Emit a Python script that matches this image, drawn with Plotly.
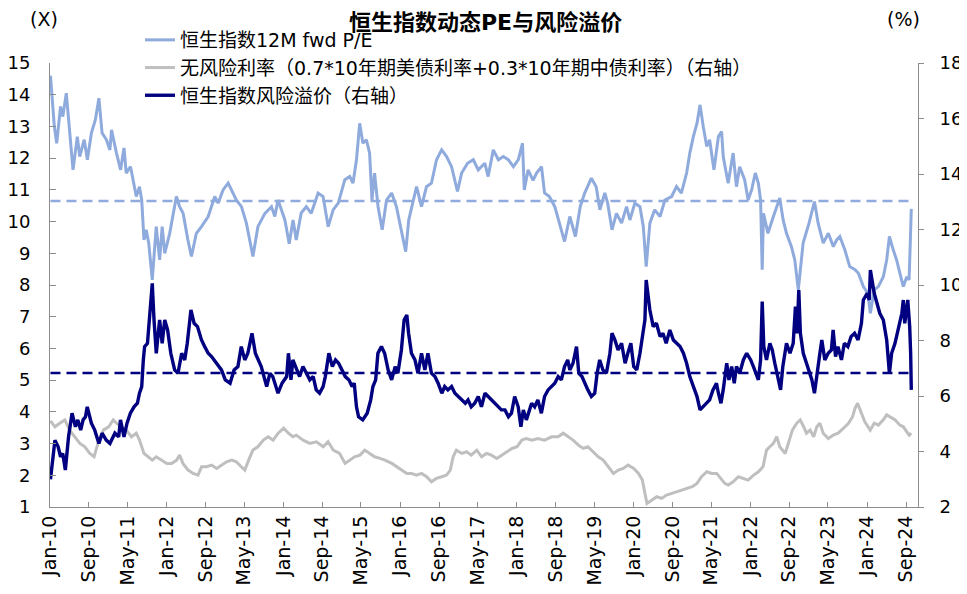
import plotly.graph_objects as go

# ---------------- data ----------------
pe_dates = [
    "2010-01-04","2010-01-28","2010-02-12","2010-03-08","2010-03-22","2010-04-13","2010-05-25","2010-06-21","2010-07-06","2010-08-03","2010-08-23","2010-09-17","2010-10-12","2010-11-03","2010-11-23","2010-12-20",
    "2011-01-11","2011-01-21","2011-02-21","2011-03-19","2011-04-09","2011-04-23","2011-05-20","2011-06-11","2011-06-25","2011-07-15","2011-07-29","2011-08-12","2011-08-26","2011-09-11","2011-10-03","2011-10-28","2011-11-18","2011-12-04","2011-12-20",
    "2012-01-20","2012-02-07","2012-03-02","2012-03-22","2012-04-13","2012-05-13","2012-06-04","2012-07-05","2012-08-06","2012-09-17","2012-10-28","2012-11-18","2012-12-19",
    "2013-01-20","2013-03-12","2013-04-13","2013-05-14","2013-06-24","2013-07-25","2013-09-07","2013-10-18","2013-11-08","2013-11-28",
    "2014-01-10","2014-02-06","2014-03-02","2014-03-22","2014-04-22","2014-05-24","2014-06-24","2014-08-06","2014-09-06","2014-10-08","2014-11-08","2014-12-10",
    "2015-01-20","2015-02-20","2015-03-12","2015-04-03","2015-04-23","2015-05-13","2015-06-04","2015-06-24","2015-07-09","2015-07-25","2015-08-16","2015-09-11","2015-10-08","2015-11-09","2015-12-09",
    "2016-01-11","2016-02-05","2016-02-24","2016-03-21","2016-04-13","2016-05-14","2016-06-14","2016-07-15","2016-08-16","2016-09-17","2016-10-18","2016-11-18","2016-12-25",
    "2017-01-20","2017-02-26","2017-04-03","2017-05-04","2017-06-14","2017-07-05","2017-08-06","2017-09-07","2017-10-08","2017-11-08","2017-12-10",
    "2018-01-10","2018-02-05","2018-02-16","2018-03-12","2018-04-12","2018-05-04","2018-06-04","2018-06-23","2018-07-23","2018-08-26","2018-09-26","2018-10-26","2018-11-28",
    "2019-01-02","2019-02-01","2019-03-01","2019-04-12","2019-05-12","2019-06-04","2019-07-05","2019-07-23","2019-08-19","2019-09-16","2019-10-18","2019-11-18","2019-12-09",
    "2020-01-09","2020-02-10","2020-03-02","2020-03-20","2020-04-12","2020-05-12","2020-06-15","2020-07-15","2020-08-26","2020-09-26","2020-10-26","2020-11-28","2020-12-18",
    "2021-01-09","2021-02-01","2021-02-20","2021-03-12","2021-04-03","2021-04-21","2021-05-18","2021-06-15","2021-07-05","2021-07-15","2021-08-15","2021-09-15","2021-10-06","2021-10-26","2021-11-26","2021-12-18",
    "2022-01-09","2022-02-01","2022-02-20","2022-03-06","2022-03-11","2022-03-16","2022-03-24","2022-04-21","2022-05-25","2022-06-15","2022-07-04","2022-07-25","2022-08-15","2022-09-15","2022-10-06","2022-10-28","2022-11-09","2022-11-27",
    "2023-01-03","2023-01-21","2023-02-06","2023-03-01","2023-04-02","2023-05-04","2023-06-04","2023-06-25","2023-07-15","2023-08-15","2023-09-15","2023-10-18","2023-11-08","2023-12-09",
    "2024-01-06","2024-01-22","2024-02-15","2024-03-12","2024-04-12","2024-05-03","2024-05-20","2024-06-13","2024-07-04","2024-07-25","2024-08-15","2024-09-06","2024-09-20","2024-09-27","2024-10-04",
]
pe_values = [
    14.6,13.0,12.47,13.63,13.31,14.05,11.63,12.68,12.05,12.58,11.95,12.79,13.21,13.89,12.79,12.58,
    12.26,12.89,12.16,11.63,12.32,11.53,11.73,11.21,10.79,11.1,10.68,9.42,9.74,9.32,8.16,9.84,8.79,9.84,9.0,
    9.63,10.16,10.79,10.47,10.26,9.42,8.9,9.63,9.84,10.16,10.79,10.58,11.0,
    11.21,10.68,10.47,9.95,8.9,9.84,10.26,10.47,10.16,10.68,
    10.05,9.3,10.05,9.42,10.27,10.47,10.26,10.9,10.79,9.84,10.37,10.58,
    11.32,11.42,11.21,11.95,13.1,12.47,12.58,12.16,10.68,11.53,10.47,9.74,10.68,10.9,10.47,
    9.63,9.05,10.05,10.58,11.1,10.47,11.1,11.21,11.95,12.26,12.05,11.73,10.95,
    11.53,11.84,11.95,11.63,11.84,11.42,12.26,11.95,12.05,11.95,11.73,
    11.95,12.47,11.0,11.63,11.3,11.53,11.73,10.9,10.79,10.47,9.95,9.37,10.16,
    9.53,10.47,10.9,11.37,11.1,10.37,10.9,10.58,9.74,10.26,9.95,10.47,10.05,
    10.58,10.47,9.84,8.58,9.95,10.37,10.16,10.68,10.79,11.1,10.9,11.53,12.16,
    12.68,13.1,13.68,13.0,12.37,12.58,11.63,12.68,12.84,12.05,11.21,12.16,11.1,11.73,11.32,10.68,
    11.0,11.53,11.21,10.68,9.84,8.48,10.26,9.63,10.16,10.47,10.74,10.05,9.63,9.21,8.79,7.85,8.48,9.32,
    9.95,10.37,10.63,9.95,9.32,9.63,9.21,9.42,9.53,9.11,8.58,8.48,8.37,7.95,
    7.74,7.11,7.85,7.95,8.26,8.79,9.53,9.11,8.79,8.37,7.95,8.26,8.16,9.21,10.4,
]

rf_dates = [
    "2010-01-04","2010-02-01","2010-03-03","2010-04-04","2010-05-04","2010-06-04","2010-07-07","2010-08-07","2010-09-07","2010-10-04","2010-10-28","2010-12-01",
    "2011-01-03","2011-02-01","2011-02-21","2011-03-22","2011-04-25","2011-05-25","2011-06-25","2011-07-15","2011-08-12","2011-09-07","2011-10-03","2011-10-28","2011-12-01",
    "2012-01-02","2012-02-01","2012-03-04","2012-03-22","2012-04-12","2012-05-14","2012-06-15","2012-07-15","2012-08-07","2012-09-07","2012-10-08","2012-11-09","2012-12-09",
    "2013-01-10","2013-02-12","2013-03-12","2013-04-12","2013-05-04","2013-05-28","2013-06-24","2013-07-25","2013-08-28","2013-09-28","2013-10-28","2013-11-29",
    "2014-01-02","2014-02-01","2014-03-01","2014-03-22","2014-05-04","2014-06-15","2014-07-26","2014-09-07","2014-10-07","2014-11-09","2014-12-18",
    "2015-01-22","2015-02-20","2015-03-22","2015-04-25","2015-05-25","2015-06-25","2015-07-25","2015-08-28","2015-09-28","2015-11-10","2015-12-10",
    "2016-01-10","2016-02-12","2016-03-12","2016-04-12","2016-05-14","2016-06-15","2016-07-15","2016-08-15","2016-09-18","2016-10-18","2016-11-10","2016-11-28","2016-12-18",
    "2017-01-21","2017-02-20","2017-03-21","2017-04-25","2017-05-25","2017-06-25","2017-07-25","2017-08-28","2017-09-28","2017-10-28","2017-12-01",
    "2018-01-02","2018-02-01","2018-03-01","2018-04-04","2018-05-12","2018-06-23","2018-08-06","2018-09-16","2018-10-18","2018-11-18","2018-12-18",
    "2019-01-21","2019-02-20","2019-03-21","2019-04-21","2019-05-25","2019-06-25","2019-07-25","2019-08-28","2019-09-28","2019-10-28","2019-11-28",
    "2020-01-02","2020-02-01","2020-02-25","2020-03-12","2020-03-25","2020-04-25","2020-05-25","2020-06-25","2020-07-25","2020-08-28","2020-09-28","2020-10-28","2020-11-28",
    "2021-01-02","2021-02-01","2021-03-01","2021-04-04","2021-05-04","2021-06-04","2021-07-07","2021-07-25","2021-08-15","2021-09-15","2021-10-18","2021-11-18","2021-12-18",
    "2022-01-21","2022-02-20","2022-03-21","2022-04-12","2022-05-03","2022-05-25","2022-06-15","2022-07-04","2022-08-07","2022-08-28","2022-09-21","2022-10-18","2022-11-09","2022-12-01","2022-12-18",
    "2023-01-10","2023-02-01","2023-02-21","2023-03-12","2023-04-02","2023-05-04","2023-06-04","2023-07-04","2023-08-07","2023-09-07","2023-10-02","2023-10-18","2023-11-03","2023-11-25","2023-12-18",
    "2024-01-21","2024-02-15","2024-03-12","2024-04-12","2024-05-03","2024-05-25","2024-06-25","2024-07-25","2024-08-15","2024-09-06","2024-09-21","2024-10-04",
]
rf_values = [
    5.1,4.89,5.02,5.14,4.77,4.53,4.29,4.17,3.93,3.81,4.29,4.77,
    4.89,5.14,5.02,4.89,4.77,4.53,4.66,4.41,3.93,3.81,3.69,3.81,3.69,
    3.57,3.57,3.69,3.87,3.57,3.33,3.21,3.15,3.45,3.45,3.51,3.39,3.51,
    3.63,3.69,3.63,3.45,3.33,3.69,4.05,4.17,4.41,4.53,4.41,4.66,
    4.84,4.66,4.53,4.59,4.41,4.29,4.35,4.17,4.35,4.05,3.93,
    3.57,3.69,3.81,3.87,4.05,3.93,3.81,3.75,3.69,3.57,3.45,
    3.33,3.21,3.21,3.15,3.21,3.09,2.91,3.03,3.09,3.15,3.33,3.81,4.05,
    3.93,3.99,3.87,4.05,3.81,3.93,3.87,3.75,3.87,3.99,4.11,
    4.17,4.41,4.47,4.41,4.47,4.41,4.53,4.53,4.66,4.53,4.41,
    4.23,4.11,4.17,3.99,3.81,3.69,3.45,3.21,3.33,3.39,3.51,
    3.39,3.21,2.97,2.49,2.13,2.25,2.37,2.31,2.43,2.49,2.55,2.61,2.67,
    2.73,2.85,3.09,3.27,3.21,3.21,2.97,2.85,2.79,2.91,3.09,3.03,2.97,
    3.15,3.27,3.45,4.05,4.17,4.29,4.53,4.17,3.93,4.29,4.77,5.02,5.14,4.89,4.66,
    4.77,4.53,4.89,5.02,4.66,4.47,4.59,4.66,4.84,5.02,5.25,5.56,5.74,5.38,5.07,
    4.77,5.02,4.95,5.14,5.32,5.25,5.14,4.95,4.89,4.71,4.59,4.66,
]

rp_dates = [
    "2010-01-04","2010-02-01","2010-02-21","2010-03-08","2010-03-22","2010-04-07","2010-04-27","2010-05-19","2010-06-09","2010-06-24","2010-07-12","2010-07-27","2010-08-11","2010-08-22","2010-09-17","2010-10-08","2010-11-03","2010-11-23","2010-12-19",
    "2011-01-11","2011-02-11","2011-03-07","2011-03-18","2011-04-09","2011-04-28","2011-05-19","2011-06-11","2011-07-02","2011-07-15","2011-07-29","2011-08-08","2011-08-16","2011-09-03","2011-09-17","2011-10-03","2011-10-14","2011-10-28","2011-11-18","2011-12-04","2011-12-20",
    "2012-01-07","2012-01-27","2012-02-20","2012-03-12","2012-04-04","2012-04-23","2012-05-09","2012-06-01","2012-06-21","2012-07-12","2012-08-06","2012-08-26","2012-09-17","2012-10-08","2012-11-09","2012-12-09",
    "2013-01-02","2013-02-01","2013-02-26","2013-03-22","2013-04-12","2013-05-04","2013-05-23","2013-06-18","2013-07-09","2013-07-25","2013-08-15","2013-09-18","2013-10-08","2013-10-26","2013-11-28","2013-12-23",
    "2014-01-21","2014-02-01","2014-02-17","2014-03-01","2014-03-20","2014-04-12","2014-05-03","2014-05-24","2014-06-15","2014-07-06","2014-07-25","2014-08-15","2014-09-06","2014-09-20","2014-10-12","2014-11-03","2014-11-23","2014-12-12",
    "2015-01-03","2015-01-23","2015-02-15","2015-03-06","2015-03-20","2015-04-03","2015-04-16","2015-05-12","2015-06-09","2015-07-01","2015-07-15","2015-08-01","2015-08-15","2015-09-06","2015-09-26","2015-10-18","2015-11-09","2015-12-01","2015-12-18",
    "2016-01-09","2016-01-26","2016-02-12","2016-02-23","2016-03-12","2016-04-03","2016-04-22","2016-05-14","2016-06-04","2016-06-23","2016-07-15","2016-08-06","2016-08-26","2016-09-18","2016-10-06","2016-10-26","2016-11-18","2016-12-09",
    "2017-01-02","2017-01-21","2017-02-12","2017-03-01","2017-03-21","2017-04-12","2017-05-04","2017-05-24","2017-06-15","2017-07-05","2017-07-24","2017-08-15","2017-09-06","2017-09-26","2017-10-18","2017-11-09","2017-11-28","2017-12-18",
    "2018-01-09","2018-01-26","2018-02-10","2018-03-01","2018-03-21","2018-04-03","2018-04-22","2018-05-12","2018-06-03","2018-06-23","2018-07-15","2018-08-06","2018-08-26","2018-09-16","2018-10-06","2018-10-26","2018-11-15","2018-11-28","2018-12-18",
    "2019-01-09","2019-01-23","2019-02-12","2019-03-01","2019-03-21","2019-04-12","2019-05-03","2019-05-18","2019-06-03","2019-06-23","2019-07-15","2019-08-06","2019-08-19","2019-09-06","2019-09-26","2019-10-18","2019-11-09","2019-11-26","2019-12-15",
    "2020-01-02","2020-01-21","2020-02-10","2020-03-02","2020-03-12","2020-03-20","2020-04-12","2020-05-03","2020-05-23","2020-06-15","2020-07-03","2020-07-23","2020-08-15","2020-09-06","2020-09-26","2020-10-18","2020-11-08","2020-11-28","2020-12-18",
    "2021-01-09","2021-02-01","2021-02-20","2021-03-12","2021-04-03","2021-04-21","2021-05-12","2021-05-24","2021-06-03","2021-06-15","2021-07-01","2021-07-15","2021-08-06","2021-08-20","2021-09-06","2021-09-22","2021-10-06","2021-10-26","2021-11-18","2021-12-09",
    "2022-01-03","2022-01-20","2022-02-03","2022-02-20","2022-03-06","2022-03-16","2022-03-26","2022-04-12","2022-05-03","2022-05-18","2022-06-03","2022-06-23","2022-07-09","2022-07-23","2022-08-15","2022-09-06","2022-09-26","2022-10-10","2022-10-20","2022-10-31","2022-11-10","2022-11-28",
    "2023-01-03","2023-01-21","2023-02-06","2023-02-21","2023-03-12","2023-03-24","2023-04-12","2023-05-03","2023-05-23","2023-06-03","2023-06-18","2023-07-03","2023-07-25","2023-08-12","2023-09-03","2023-09-23","2023-10-15","2023-11-06","2023-11-27","2023-12-09",
    "2024-01-02","2024-01-15","2024-01-22","2024-02-15","2024-03-01","2024-03-21","2024-04-12","2024-05-03","2024-05-20","2024-06-03","2024-06-24","2024-07-15","2024-08-06","2024-08-15","2024-08-24","2024-09-12","2024-09-24","2024-09-30","2024-10-04",
]
rp_values = [
    3.0,4.41,4.17,3.81,3.93,3.33,4.53,5.38,4.89,5.14,4.77,5.14,5.25,5.61,5.02,4.77,4.29,4.66,4.41,
    4.29,4.66,4.53,5.14,4.53,5.02,5.38,5.61,5.74,6.1,6.34,7.3,7.78,7.9,8.98,10.06,8.74,7.54,8.74,7.9,8.74,
    8.38,7.54,6.94,6.82,7.54,7.3,7.9,9.1,8.62,8.5,8.02,7.78,7.54,7.42,7.18,6.94,
    6.58,6.46,6.94,7.06,7.78,7.3,7.54,8.26,7.54,7.3,7.06,6.34,6.82,6.7,6.1,6.46,
    6.7,7.54,6.58,7.3,7.06,6.7,7.06,6.82,6.58,6.7,6.22,6.1,6.34,6.7,7.54,7.06,7.3,7.18,
    6.94,6.7,6.58,6.34,6.46,5.61,5.25,5.14,5.38,5.86,6.34,6.58,7.54,7.78,7.54,6.94,6.58,7.06,6.82,
    7.66,8.74,8.92,8.26,7.54,7.3,6.82,7.54,6.94,7.54,6.82,6.7,6.46,6.1,6.34,6.22,6.34,6.1,
    5.98,5.86,5.74,5.86,5.61,5.74,5.98,5.61,6.1,5.98,5.86,5.74,5.61,5.5,5.5,5.25,5.38,5.98,
    5.61,4.89,5.5,5.14,5.5,5.74,5.61,5.86,5.38,5.98,6.22,6.34,6.46,6.7,6.58,7.06,7.3,6.94,7.18,
    7.78,6.82,6.7,6.46,6.22,5.98,6.1,6.82,7.3,6.94,6.82,7.54,8.26,8.02,7.66,7.9,7.18,7.54,7.9,
    7.06,6.94,7.54,8.26,8.74,10.18,9.1,8.5,8.62,8.14,8.26,7.9,8.38,8.02,7.9,7.78,7.54,7.18,6.7,
    6.34,5.98,5.5,5.61,5.74,5.86,6.22,6.34,6.46,6.1,5.74,6.22,7.18,6.58,7.06,6.46,7.06,6.82,7.3,7.54,
    7.3,7.06,6.82,6.58,7.3,9.4,7.78,7.3,7.9,7.66,7.18,6.58,6.22,7.06,7.9,7.54,7.9,9.22,8.26,9.82,8.26,7.54,
    6.94,6.58,6.1,6.82,7.54,8.02,7.3,7.54,7.66,8.38,7.42,7.78,7.3,7.9,7.78,8.14,8.26,8.02,8.62,9.46,
    9.7,9.46,10.54,9.7,9.34,8.98,8.74,8.02,6.82,7.54,7.9,8.5,8.98,9.46,8.62,9.46,8.5,7.54,6.22,
]

# long-run averages drawn as dashed reference lines
pe_mean = 10.65
rp_mean = 6.83
mean_span = ["2010-01-04", "2024-10-04"]

x_tick_dates = ["2010-01-01","2010-09-01","2011-05-01","2012-01-01","2012-09-01","2013-05-01",
                "2014-01-01","2014-09-01","2015-05-01","2016-01-01","2016-09-01","2017-05-01",
                "2018-01-01","2018-09-01","2019-05-01","2020-01-01","2020-09-01","2021-05-01",
                "2022-01-01","2022-09-01","2023-05-01","2024-01-01","2024-09-01"]
x_tick_labels = ["Jan-10","Sep-10","May-11","Jan-12","Sep-12","May-13","Jan-14","Sep-14",
                 "May-15","Jan-16","Sep-16","May-17","Jan-18","Sep-18","May-19","Jan-20",
                 "Sep-20","May-21","Jan-22","Sep-22","May-23","Jan-24","Sep-24"]

names = ["恒生指数12M fwd P/E",
         "无风险利率（0.7*10年期美债利率+0.3*10年期中债利率）（右轴）",
         "恒生指数风险溢价（右轴）"]
title_text = "恒生指数动态PE与风险溢价"

assert len(pe_dates) == len(pe_values)
assert len(rf_dates) == len(rf_values)
assert len(rp_dates) == len(rp_values)

# ---------------- styling ----------------
FONT = "DejaVu Sans, Noto Sans CJK SC, sans-serif"
PE_COLOR = "#8FAADC"
RF_COLOR = "#BFBFBF"
RP_COLOR = "#000080"
AXIS_COLOR = "#8C8C8C"

# plot area in page pixels: x 50..918, y 63..507 (page has an 8px body margin)
PAGE_OFF = 8
FIG_W, FIG_H = 967 - PAGE_OFF, 594 - PAGE_OFF
PLOT_W, PLOT_H = 868, 444

def px(xp):
    return (xp - 50) / PLOT_W

def py(yp):
    return (507 - yp) / PLOT_H

fig = go.Figure()
fig.add_trace(go.Scatter(x=pe_dates, y=pe_values, name=names[0], mode="lines",
                         line=dict(color=PE_COLOR, width=3), yaxis="y"))
fig.add_trace(go.Scatter(x=rf_dates, y=rf_values, name=names[1], mode="lines",
                         line=dict(color=RF_COLOR, width=3), yaxis="y2"))
fig.add_trace(go.Scatter(x=rp_dates, y=rp_values, name=names[2], mode="lines",
                         line=dict(color=RP_COLOR, width=3.4), yaxis="y2"))
fig.add_trace(go.Scatter(x=mean_span, y=[pe_mean, pe_mean], mode="lines", showlegend=False,
                         line=dict(color=PE_COLOR, width=2.5, dash="10px,6px"), yaxis="y"))
fig.add_trace(go.Scatter(x=mean_span, y=[rp_mean, rp_mean], mode="lines", showlegend=False,
                         line=dict(color=RP_COLOR, width=2.5, dash="10px,6px"), yaxis="y2"))

fig.update_layout(
    width=FIG_W, height=FIG_H,
    margin=dict(l=50 - PAGE_OFF, r=FIG_W - (918 - PAGE_OFF), t=63 - PAGE_OFF,
                b=FIG_H - (507 - PAGE_OFF), pad=0, autoexpand=False),
    paper_bgcolor="white", plot_bgcolor="white",
    font=dict(family=FONT, size=18, color="#000000"),
    showlegend=True,
    legend=dict(x=px(140), y=py(21), xanchor="left", yanchor="top",
                bgcolor="rgba(0,0,0,0)", font=dict(size=19, family=FONT),
                itemwidth=30, tracegroupgap=0),
    xaxis=dict(type="date", range=["2010-01-01", "2024-11-15"],
               tickmode="array", tickvals=x_tick_dates, ticktext=x_tick_labels,
               tickangle=-90, ticks="inside", ticklen=5, tickcolor=AXIS_COLOR,
               showline=True, linecolor=AXIS_COLOR, linewidth=1, automargin=False,
               showgrid=False, zeroline=False, tickfont=dict(size=19)),
    yaxis=dict(range=[1, 15], dtick=1, tick0=1, ticks="inside", ticklen=6,
               tickcolor=AXIS_COLOR, showline=True, linecolor=AXIS_COLOR,
               showgrid=False, zeroline=False, tickfont=dict(size=18),
               ticklabelstandoff=15, automargin=False),
    yaxis2=dict(range=[2, 18], dtick=2, tick0=2, overlaying="y", side="right",
                ticks="outside", ticklen=5, tickcolor=AXIS_COLOR, showline=True,
                linecolor=AXIS_COLOR, showgrid=False, zeroline=False,
                tickfont=dict(size=18), ticklabelstandoff=12, automargin=False),
    annotations=[
        dict(text="<b>" + title_text + "</b>", xref="paper", yref="paper",
             x=px(485), y=py(PAGE_OFF + 1), xanchor="center", yanchor="top", borderpad=0,
             showarrow=False, font=dict(size=22, family=FONT)),
        dict(text="(X)", xref="paper", yref="paper", x=px(44), y=py(19), borderpad=0,
             xanchor="center", yanchor="middle", showarrow=False, font=dict(size=19)),
        dict(text="(%)", xref="paper", yref="paper", x=px(903), y=py(19), borderpad=0,
             xanchor="center", yanchor="middle", showarrow=False, font=dict(size=19)),
    ],
)

fig.write_html("out.html")
